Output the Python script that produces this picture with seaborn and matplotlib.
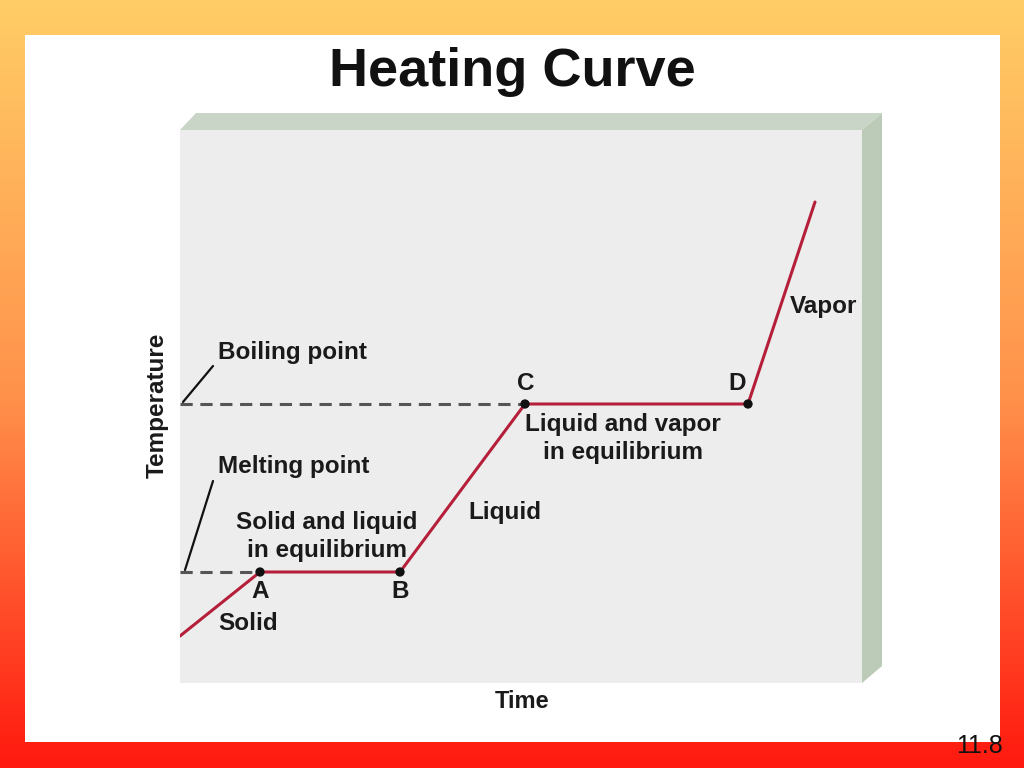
import numpy as np
import matplotlib
matplotlib.use("Agg")
import matplotlib.pyplot as plt
from matplotlib.patches import Polygon, Rectangle
import seaborn as sns
import pandas as pd

# ---- data (arbitrary units) ----
time = [0, 80, 220, 345, 568, 635]
temperature = [47, 111, 111, 279, 279, 481]
point_labels = ["", "A", "B", "C", "D", ""]
melting_point = 111
boiling_point = 279

sns.set_theme(style="white")
plt.rcParams['font.family'] = ['Liberation Sans', 'DejaVu Sans']

W, H = 1024, 768
fig = plt.figure(figsize=(10.24, 7.68), dpi=100)

# background axes in pixel coordinates
bg = fig.add_axes([0, 0, 1, 1], zorder=0)
bg.set_xlim(0, W)
bg.set_ylim(H, 0)
bg.axis("off")
top = np.array([255, 205, 102]) / 255
mid = np.array([255, 145, 75]) / 255
bot = np.array([255, 25, 15]) / 255
t = np.linspace(0, 1, 256)[:, None]
m = 0.52
grad = np.where(t < m, top + (mid - top) * (t / m), mid + (bot - mid) * ((t - m) / (1 - m)))
grad = grad[:, None, :].repeat(2, axis=1)
bg.imshow(grad, extent=[0, W, H, 0], aspect="auto", zorder=0)
bg.add_patch(Rectangle((25, 35), 975, 707, facecolor="white", edgecolor="none", zorder=1))
# 3D box bevels
bg.add_patch(Polygon([(180, 130), (196, 113), (882, 113), (862, 130)], closed=True,
                     facecolor="#c9d6c7", edgecolor="none", zorder=2))
bg.add_patch(Polygon([(862, 130), (882, 113), (882, 666), (862, 683)], closed=True,
                     facecolor="#bccbb8", edgecolor="none", zorder=2))
bg.text(512, 72, "Heating Curve", ha="center", va="center", fontsize=39,
        fontweight="bold", color="#111111", zorder=3)
bg.text(522, 702, "Time", ha="center", va="center", fontsize=17,
        fontweight="bold", color="#1a1a1a", zorder=3)
bg.text(157, 405, "Temperature", ha="center", va="center", rotation=90, fontsize=17.5,
        fontweight="bold", color="#1a1a1a", zorder=3)
bg.text(1003, 746, "11.8", ha="right", va="center", fontsize=18, color="#111111", zorder=3)

# main chart axes (front face of box)
ax = fig.add_axes([180 / W, 1 - 683 / H, 682 / W, 553 / H], zorder=2)
ax.set_facecolor("#ededed")
ax.set_xlim(0, 682)
ax.set_ylim(0, 553)
for s in ax.spines.values():
    s.set_visible(False)
ax.set_xticks([])
ax.set_yticks([])

df = pd.DataFrame({"time": time, "temperature": temperature, "label": point_labels})

# dashed reference lines
ax.plot([0, time[1]], [melting_point, melting_point], color="#555555", lw=2.2,
        linestyle=(0, (4, 2.5)), zorder=2)
ax.plot([0, time[3]], [boiling_point, boiling_point], color="#555555", lw=2.2,
        linestyle=(0, (4, 2.5)), zorder=2)
# leader lines
ax.plot([3, 33], [boiling_point + 2, 317], color="#111111", lw=1.6, zorder=2)
ax.plot([5, 33], [melting_point + 2, 202], color="#111111", lw=1.6, zorder=2)

sns.lineplot(data=df, x="time", y="temperature", ax=ax, color="#b51f3a", lw=2.2,
             sort=False, zorder=3)
pts = df[df["label"] != ""]
sns.scatterplot(data=pts, x="time", y="temperature", ax=ax, color="#111111", s=45,
                edgecolor="none", zorder=4)
ax.set_xlabel("")
ax.set_ylabel("")

tk = dict(fontsize=17.5, fontweight="bold", color="#1a1a1a", zorder=5)
ax.text(38, 331, "Boiling point", ha="left", va="center", **tk)
ax.text(38, 217, "Melting point", ha="left", va="center", **tk)
ax.text(147, 160, "Solid and liquid", ha="center", va="center", **tk)
ax.text(147, 133, "in equilibrium", ha="center", va="center", **tk)
ax.text(68, 60, "Solid", ha="center", va="center", **tk)
ax.text(325, 170, "Liquid", ha="center", va="center", **tk)
ax.text(443, 258, "Liquid and vapor", ha="center", va="center", **tk)
ax.text(443, 231, "in equilibrium", ha="center", va="center", **tk)
ax.text(644, 376, "Vapor", ha="center", va="center", **tk)
offsets = {"A": (0, -19), "B": (0, -19), "C": (1, 21), "D": (-11, 21)}
for _, r in pts.iterrows():
    dx, dy = offsets[r["label"]]
    ax.text(r["time"] + dx, r["temperature"] + dy, r["label"], ha="center", va="center", **tk)

fig.savefig("out.png", dpi=100)
